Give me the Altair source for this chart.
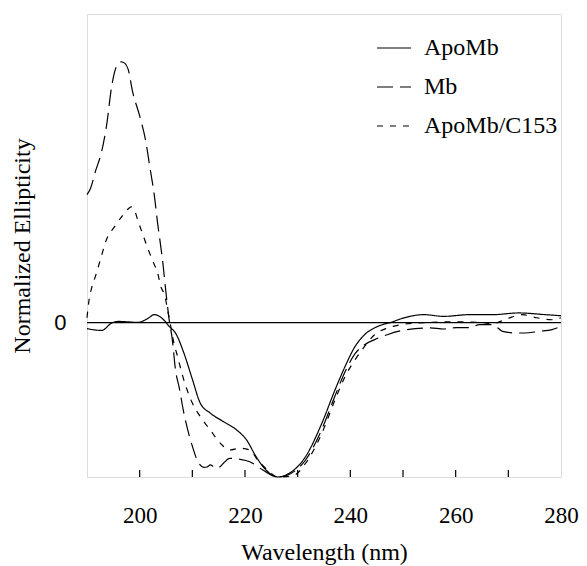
import altair as alt
import pandas as pd

series_names = ["ApoMb", "Mb", "ApoMb/C153"]

apo_wl = [190.0, 192.8, 194.7, 195.9, 199.7, 201.5, 202.8, 203.7, 204.7, 205.6, 206.8,
          208.4, 210.0, 211.5, 213.4, 215.9, 218.4, 220.3, 222.1, 224.0, 226.2, 228.4,
          231.5, 234.6, 237.1, 239.0, 240.9, 242.7, 245.2, 247.7, 250.2, 253.9, 257.7,
          262.7, 267.0, 272.0, 277.0, 280.0]
apo_val = [-0.039, -0.05, -0.002, 0.008, 0.002, 0.026, 0.052, 0.042, 0.013, -0.024, -0.067,
           -0.197, -0.366, -0.521, -0.586, -0.641, -0.695, -0.760, -0.868, -0.955, -1.0, -0.976,
           -0.868, -0.651, -0.435, -0.284, -0.154, -0.078, -0.024, 0.002, 0.031, 0.052, 0.041,
           0.052, 0.052, 0.063, 0.052, 0.045]

mb_wl = [190.0, 190.6, 191.6, 192.8, 193.7, 194.7, 195.3, 195.9, 196.5, 197.2, 197.8,
         198.7, 200.0, 201.2, 201.9, 202.8, 203.4, 204.4, 205.0, 205.6, 206.2, 206.8,
         207.5, 208.4, 210.0, 211.2, 212.2, 212.8, 213.4, 214.0, 214.6, 215.2, 215.9,
         217.1, 219.0, 220.9, 223.4, 226.2, 228.1, 231.5, 234.7, 237.1, 239.0, 240.9,
         242.7, 244.6, 247.0, 250.8, 255.2, 257.7, 260.1, 262.7, 264.5, 267.0, 268.9,
         271.3, 273.2, 275.8, 278.3, 280.0]
mb_val = [0.83, 0.864, 0.98, 1.112, 1.275, 1.534, 1.632, 1.675, 1.69, 1.68, 1.643,
          1.49, 1.34, 1.167, 1.015, 0.82, 0.647, 0.388, 0.193, 0.02, -0.11, -0.305,
          -0.42, -0.587, -0.80, -0.91, -0.937, -0.935, -0.922, -0.932, -0.944, -0.935, -0.911,
          -0.879, -0.885, -0.901, -0.955, -1.0, -0.987, -0.890, -0.682, -0.474, -0.318, -0.201,
          -0.143, -0.110, -0.078, -0.045, -0.034, -0.041, -0.032, -0.032, -0.013, -0.013, -0.056,
          -0.067, -0.067, -0.056, -0.045, -0.024]

c153_wl = [190.0, 190.4, 190.9, 191.6, 192.5, 193.7, 195.3, 196.9, 197.8, 198.4, 199.1,
           199.7, 200.6, 201.5, 202.5, 203.4, 204.0, 204.8, 205.3, 205.9, 206.5, 207.2,
           208.1, 209.0, 210.0, 211.5, 213.4, 215.3, 217.1, 219.0, 220.9, 222.4, 224.3,
           226.2, 229.0, 231.5, 234.6, 237.1, 239.0, 240.9, 242.7, 244.6, 247.1, 249.6,
           253.9, 259.5, 265.1, 267.0, 269.8, 272.6, 275.4, 278.2, 280.0]
c153_val = [0.032, 0.149, 0.227, 0.30, 0.403, 0.539, 0.625, 0.701, 0.737, 0.75, 0.721,
            0.658, 0.571, 0.485, 0.398, 0.323, 0.236, 0.171, 0.084, -0.024, -0.132, -0.219,
            -0.338, -0.435, -0.521, -0.608, -0.695, -0.781, -0.825, -0.814, -0.825, -0.890, -0.955,
            -1.0, -0.994, -0.911, -0.716, -0.5, -0.349, -0.24, -0.154, -0.078, -0.034, -0.013,
            0.0, 0.006, 0.0, -0.006, 0.026, 0.052, 0.032, 0.019, 0.032]

x_label_values = [200, 220, 240, 260, 280]
minor_ticks = [200, 210, 220, 230, 240, 250, 260, 270]
y_label_values = [0]
zero_level = [0]

W, H = 474, 463
SERIF = "Liberation Serif, 'Times New Roman', Times, serif"
SANS = "Liberation Sans, Arial, sans-serif"

rows = []
for name, xs, ys in [("ApoMb", apo_wl, apo_val), ("Mb", mb_wl, mb_val),
                     ("ApoMb/C153", c153_wl, c153_val)]:
    for a, b in zip(xs, ys):
        rows.append({"series": name, "wl": a, "val": b})
df = pd.DataFrame(rows)

x_enc = alt.X(
    "wl:Q",
    scale=alt.Scale(domain=[190, 280], nice=False, zero=False),
    axis=alt.Axis(values=x_label_values, title="Wavelength (nm)", ticks=False,
                  domain=False, grid=False, labelPadding=27, titlePadding=13,
                  labelFont=SERIF, labelFontSize=23, titleFont=SERIF, titleFontSize=24,
                  titleFontWeight="normal", labelColor="black", titleColor="black",
                  format="d", labelFlush=False),
)
y_enc = alt.Y(
    "val:Q",
    scale=alt.Scale(domain=[-1, 2], nice=False, zero=False),
    axis=alt.Axis(values=y_label_values, title="Normalized Ellipticity", ticks=False,
                  domain=False, grid=False, labelPadding=21, titlePadding=19,
                  labelFont=SANS, labelFontSize=22, titleFont=SERIF, titleFontSize=24,
                  titleFontWeight="normal", labelColor="black", titleColor="black",
                  format="d"),
)

lines = alt.Chart(df).mark_line(color="black", strokeWidth=1.2, interpolate="monotone").encode(
    x=x_enc,
    y=y_enc,
    strokeDash=alt.StrokeDash(
        "series:N",
        scale=alt.Scale(domain=series_names, range=[[1, 0], [16, 7], [6, 7]]),
        legend=alt.Legend(title=None, orient="none", legendX=289, legendY=16,
                          symbolType="stroke", symbolSize=1156, symbolStrokeWidth=1.2,
                          symbolStrokeColor="black", labelFont=SERIF, labelFontSize=24,
                          labelColor="black", labelOffset=12, rowPadding=9, padding=0),
    ),
)

zero_rule = alt.Chart(pd.DataFrame({"val": zero_level})).mark_rule(
    color="black", strokeWidth=1.3).encode(y=y_enc)

ticks = alt.Chart(pd.DataFrame({"wl": minor_ticks})).mark_rule(
    color="black", strokeWidth=1.2).encode(x=x_enc, y=alt.value(H), y2=alt.value(H - 7))

chart = alt.layer(zero_rule, ticks, lines).properties(
    width=W, height=H,
    padding={"left": 79, "top": 6, "right": 18, "bottom": 88},
    autosize=alt.AutoSizeParams(type="none"),
).configure_view(stroke="#222", strokeWidth=1.5).configure(background="white")

chart.save("out.html", embed_options={"renderer": "svg", "actions": False})
